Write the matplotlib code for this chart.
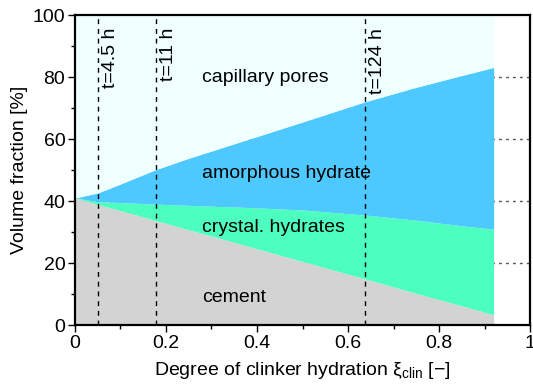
import numpy as np
import matplotlib
matplotlib.use("Agg")
import matplotlib.pyplot as plt

plt.rcParams['font.family'] = ['Liberation Sans', 'DejaVu Sans']
plt.rcParams['mathtext.fontset'] = 'custom'
plt.rcParams['mathtext.rm'] = 'Liberation Sans'

# degree of hydration and cumulative boundaries [%]
xi = [0.0, 0.05, 0.1, 0.175, 0.25, 0.325, 0.4, 0.5, 0.637, 0.75, 0.85, 0.92]
cement_top = [41.0, 38.9, 36.9, 33.8, 30.7, 27.7, 24.6, 20.5, 14.9, 10.2, 6.2, 3.3]
crystal_top = [41.0, 39.8, 39.5, 39.0, 38.6, 38.2, 37.8, 37.1, 35.5, 33.8, 32.0, 30.9]
amorph_top = [41.0, 42.6, 45.5, 50.0, 53.8, 57.3, 60.8, 65.5, 72.0, 76.7, 80.5, 83.1]

times = [0.05, 0.177, 0.637]
time_labels = ["t=4.5 h", "t=11 h", "t=124 h"]

layer_names = ["cement", "crystal. hydrates", "amorphous hydrate", "capillary pores"]
layer_y = [9.0, 31.5, 49.0, 80.0]
colors = ["#d3d3d3", "#4dffbf", "#4dc9ff", "#f0ffff"]

fs = 14

fig = plt.figure(figsize=(5.33, 3.87), dpi=100)
ax = fig.add_axes([0.1407, 0.1602, 0.8537, 0.801])

ax.set_xlim(0, 1)
ax.set_ylim(0, 100)

# dotted horizontal grid, behind fills
for g in [20, 40, 60, 80]:
    ax.axhline(g, color="#555555", ls=(0, (2, 3)), lw=1.0, zorder=0)

x = np.array(xi)
ax.fill_between(x, 0, cement_top, color=colors[0], lw=0, zorder=1)
ax.fill_between(x, cement_top, crystal_top, color=colors[1], lw=0, zorder=1)
ax.fill_between(x, crystal_top, amorph_top, color=colors[2], lw=0, zorder=1)
ax.fill_between(x, amorph_top, 100, color=colors[3], lw=0, zorder=1)

for t, lab in zip(times, time_labels):
    ax.axvline(t, color="black", ls=(0, (3.5, 3.5)), lw=1.0, zorder=2)
    ax.text(t + 0.009, 95.8, lab, rotation=90, ha="left", va="top", fontsize=fs, zorder=3)

for name, yy in zip(layer_names, layer_y):
    ax.text(0.28, yy, name, ha="left", va="center", fontsize=fs, zorder=3)

ax.set_xticks([0, 0.2, 0.4, 0.6, 0.8, 1.0])
ax.set_xticklabels(["0", "0.2", "0.4", "0.6", "0.8", "1"])
ax.set_xticks(np.arange(0.1, 1.0, 0.2), minor=True)
ax.set_yticks([0, 20, 40, 60, 80, 100])
ax.set_yticks([10, 30, 50, 70, 90], minor=True)
ax.tick_params(which="major", direction="out", length=5, width=1, labelsize=fs, pad=2)
ax.tick_params(which="minor", direction="out", length=3, width=1)

for s in ax.spines.values():
    s.set_linewidth(1.6)
    s.set_zorder(5)

ax.set_xlabel(r"Degree of clinker hydration ξ$_\mathregular{clin}$ [−]", fontsize=fs, labelpad=6)
ax.set_ylabel("Volume fraction [%]", fontsize=fs, labelpad=3)

fig.savefig("out.png", dpi=100)
